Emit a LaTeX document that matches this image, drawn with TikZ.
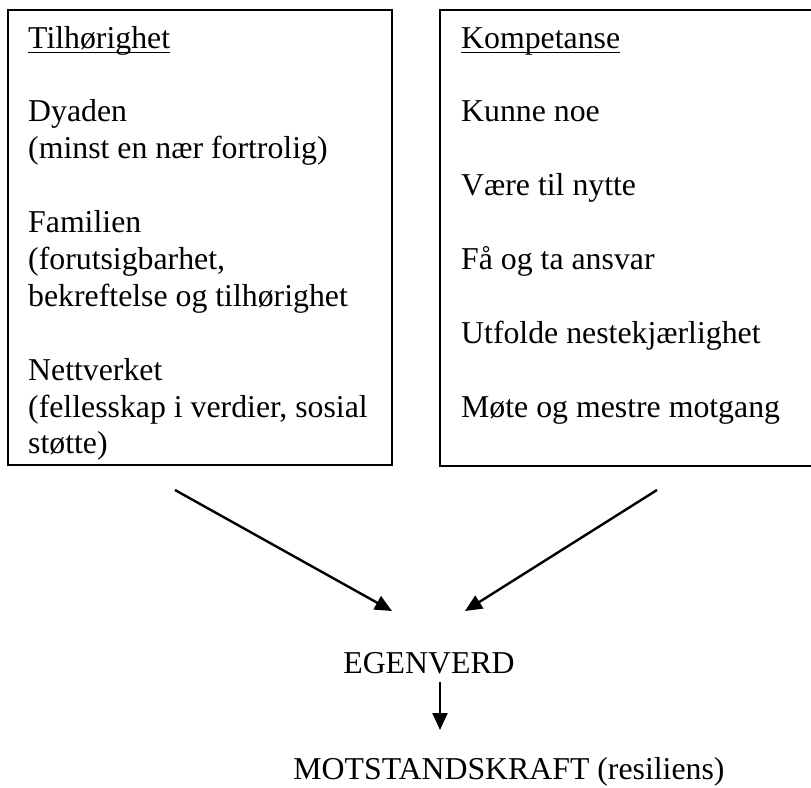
\documentclass[tikz,border=0pt]{standalone}
\usepackage{fontspec}
\setmainfont{Liberation Serif}
\usetikzlibrary{arrows.meta}
\begin{document}
\begin{tikzpicture}[x=1pt,y=-1pt,
  txt/.style={anchor=base west,inner sep=0pt,font=\fontsize{31.8pt}{36.9pt}\selectfont},
  ctxt/.style={anchor=base,inner sep=0pt,font=\fontsize{31.8pt}{36.9pt}\selectfont},
  boxline/.style={line width=2.8pt},
  conn/.style={line width=2.4pt,-{Triangle[length=17pt,width=15pt]}},
  uline/.style={line width=1.4pt}]
\useasboundingbox (0,0) rectangle (811,787);
\clip (0,0) rectangle (811,787);
% boxes
\draw[boxline] (8,10) rectangle (392,465);
\draw[boxline] (440,10) rectangle (840,466);
% left box text
\node[txt] (t1) at (28,48) {Tilhørighet};
\draw[uline] ([yshift=-4.5pt]t1.base west) -- ([yshift=-4.5pt]t1.base east);
\node[txt] (l1) at (28,121.8) {Dyaden};
\node[txt] (l2) at (28,158.7) {(minst en nær fortrolig)};
\node[txt] (l3) at (28,232.5) {Familien};
\node[txt] (l4) at (28,269.4) {(forutsigbarhet,};
\node[txt] (l5) at (28,306.3) {bekreftelse og tilhørighet};
\node[txt] (l6) at (28,380.1) {Nettverket};
\node[txt] (l7) at (28,417) {(fellesskap i verdier, sosial};
\node[txt] (l8) at (28,453.9) {støtte)};
% right box text
\node[txt] (t2) at (461,48) {Kompetanse};
\draw[uline] ([yshift=-4.5pt]t2.base west) -- ([yshift=-4.5pt]t2.base east);
\node[txt] (r1) at (461,121.8) {Kunne noe};
\node[txt] (r2) at (461,195.6) {Være til nytte};
\node[txt] (r3) at (461,269.4) {Få og ta ansvar};
\node[txt] (r4) at (461,343.2) {Utfolde nestekjærlighet};
\node[txt] (r5) at (461,417) {Møte og mestre motgang};
% bottom
\node[ctxt] (ego) at (429,673) {EGENVERD};
\node[ctxt] (mot) at (509,779) {MOTSTANDSKRAFT (resiliens)};
\coordinate (a1s) at (175,490);
\coordinate (a1e) at (392,611);
\coordinate (a2s) at (657,490);
\coordinate (a2e) at (465,611);
\coordinate (a3s) at (440,682);
\coordinate (a3e) at (440,730);
\draw[conn] (a1s) -- (a1e);
\draw[conn] (a2s) -- (a2e);
\draw[conn] (a3s) -- (a3e);
\end{tikzpicture}
\end{document}
